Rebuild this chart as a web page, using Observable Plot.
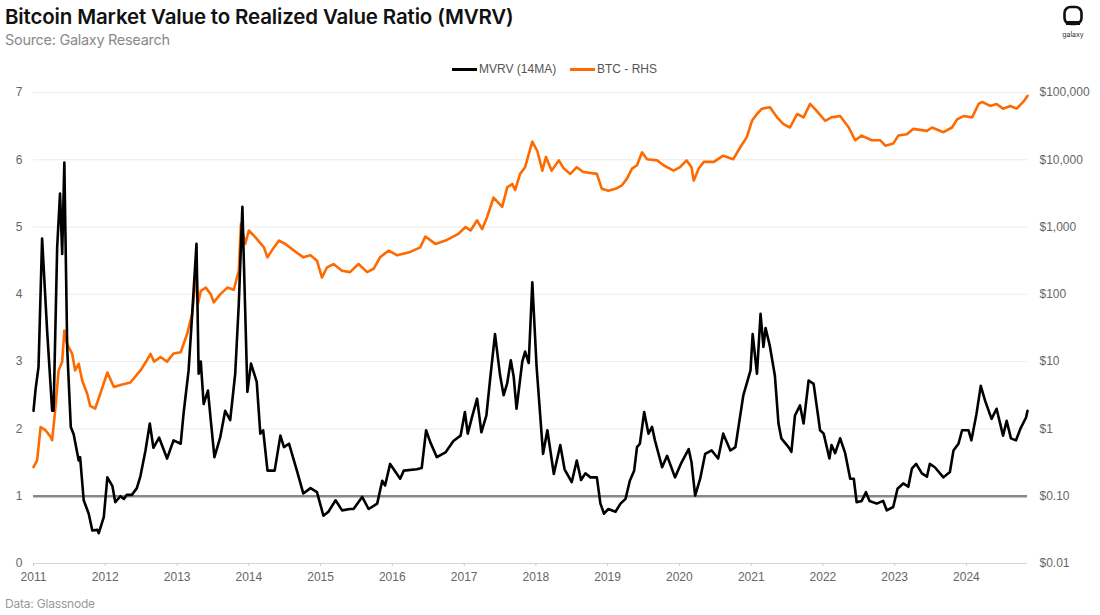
<!DOCTYPE html>
<html><head><meta charset="utf-8">
<script src="https://cdn.jsdelivr.net/npm/d3@7"></script>
<script src="https://cdn.jsdelivr.net/npm/@observablehq/plot@0.6"></script>
<style>
html,body{margin:0;padding:0;background:#fff;width:1100px;height:615px;overflow:hidden;position:relative;font-family:"Liberation Sans",Arial,sans-serif;}
#title{position:absolute;left:5px;top:4px;font-family:Inter,"Noto Sans",sans-serif;font-weight:600;font-size:20.5px;letter-spacing:-0.15px;color:#111;white-space:nowrap;}
#sub{position:absolute;left:5px;top:31px;font-family:Inter,"Noto Sans",sans-serif;font-size:14.5px;letter-spacing:-0.3px;color:#8a8a8a;white-space:nowrap;}
#legend{position:absolute;top:61px;left:0;width:1100px;height:16px;font-size:12px;color:#555;}
.lg{position:absolute;top:0;display:flex;align-items:center;height:16px;white-space:nowrap;}
.sw{display:inline-block;width:25px;height:3px;margin-right:2px;}
#chart{position:absolute;left:0;top:80px;}
#caption{position:absolute;left:5px;top:596px;font-family:Inter,"Noto Sans",sans-serif;font-size:12px;color:#9a9a9a;letter-spacing:-0.2px;}
#logo{position:absolute;left:1060px;top:5px;width:26px;text-align:center;}
#logo span{display:block;font-size:7px;color:#333;margin-top:-1px;font-family:Inter,sans-serif;}
</style></head>
<body>
<div id="title">Bitcoin Market Value to Realized Value Ratio (MVRV)</div>
<div id="sub">Source: Galaxy Research</div>
<div id="logo"><svg width="22" height="22" viewBox="0 0 22 22"><rect x="2.5" y="2" width="17" height="17" rx="6" fill="none" stroke="#111" stroke-width="2.6"/><rect x="4" y="16" width="14" height="4" fill="#111"/></svg><span>galaxy</span></div>
<div id="legend">
  <div class="lg" style="left:452px"><span class="sw" style="background:#000"></span>MVRV (14MA)</div>
  <div class="lg" style="left:570px"><span class="sw" style="background:#ff6a00"></span>BTC - RHS</div>
</div>
<div id="chart"></div>
<div id="caption">Data: Glassnode</div>
<script>
// MVRV (14MA): decimal year, ratio
const mvrvT = [2011.00,2011.03,2011.07,2011.12,2011.19,2011.26,2011.28,2011.33,2011.37,2011.40,2011.43,2011.47,2011.52,2011.56,2011.63,2011.65,2011.70,2011.77,2011.82,2011.89,2011.91,2011.98,
2012.03,2012.10,2012.14,2012.21,2012.26,2012.30,2012.37,2012.44,2012.49,2012.56,2012.62,2012.67,2012.75,2012.86,2012.95,
2013.05,2013.09,2013.16,2013.21,2013.27,2013.30,2013.33,2013.37,2013.43,2013.47,2013.52,2013.60,2013.67,2013.74,2013.81,2013.86,2013.91,2013.98,
2014.03,2014.11,2014.16,2014.20,2014.26,2014.36,2014.44,2014.49,2014.56,2014.67,2014.76,2014.86,2014.95,
2015.04,2015.11,2015.21,2015.30,2015.41,2015.46,2015.58,2015.67,2015.79,2015.86,2015.90,2015.97,
2016.11,2016.16,2016.34,2016.41,2016.47,2016.53,2016.62,2016.74,2016.85,2016.95,
2017.01,2017.05,2017.11,2017.18,2017.24,2017.31,2017.36,2017.43,2017.50,2017.55,2017.60,2017.65,2017.69,2017.73,2017.81,2017.85,2017.90,2017.95,
2018.01,2018.10,2018.16,2018.25,2018.34,2018.40,2018.50,2018.57,2018.63,2018.69,2018.76,2018.85,2018.90,2018.95,
2019.01,2019.11,2019.18,2019.25,2019.31,2019.37,2019.41,2019.45,2019.51,2019.57,2019.62,2019.66,2019.76,2019.83,2019.94,
2020.03,2020.13,2020.17,2020.22,2020.29,2020.36,2020.45,2020.54,2020.61,2020.71,2020.78,2020.89,2020.99,
2021.02,2021.08,2021.13,2021.17,2021.20,2021.26,2021.33,2021.38,2021.42,2021.52,2021.56,2021.61,2021.68,2021.73,2021.80,2021.87,2021.96,
2022.01,2022.09,2022.12,2022.17,2022.24,2022.31,2022.38,2022.43,2022.47,2022.54,2022.60,2022.65,2022.75,2022.84,2022.89,2022.98,
2023.04,2023.12,2023.19,2023.24,2023.30,2023.38,2023.45,2023.49,2023.56,2023.68,2023.77,2023.82,2023.89,2023.94,
2024.03,2024.07,2024.14,2024.20,2024.26,2024.35,2024.42,2024.51,2024.56,2024.62,2024.69,2024.75,2024.83,2024.85];
const mvrvV = [2.27,2.6,2.92,4.83,3.46,2.27,2.27,4.7,5.5,4.6,5.96,3.2,2.03,1.92,1.53,1.58,0.94,0.74,0.49,0.5,0.45,0.69,
1.28,1.15,0.91,1.0,0.96,1.02,1.02,1.12,1.3,1.68,2.08,1.72,1.87,1.56,1.83,
1.78,2.23,2.87,3.71,4.75,2.82,3.0,2.37,2.57,2.12,1.58,1.87,2.27,2.13,2.82,3.86,5.3,2.55,
2.97,2.7,1.93,1.98,1.38,1.38,1.90,1.73,1.78,1.38,1.04,1.12,1.06,
0.71,0.77,0.94,0.79,0.81,0.81,0.99,0.81,0.89,1.23,1.16,1.48,
1.26,1.38,1.40,1.42,1.98,1.80,1.58,1.65,1.82,1.90,
2.25,1.93,2.18,2.45,1.95,2.2,2.72,3.41,2.8,2.5,2.68,3.02,2.78,2.30,3.0,3.15,2.98,4.18,
2.92,1.63,1.98,1.33,1.76,1.40,1.21,1.53,1.24,1.34,1.28,1.28,0.89,0.74,
0.81,0.77,0.89,0.96,1.23,1.38,1.73,1.78,2.25,1.93,2.03,1.83,1.43,1.60,1.28,
1.50,1.70,1.50,1.01,1.26,1.63,1.68,1.56,1.93,1.68,1.73,2.50,2.87,
3.41,2.82,3.71,3.22,3.5,3.23,2.79,2.08,1.86,1.73,1.66,2.2,2.35,2.08,2.72,2.67,1.98,
1.93,1.56,1.76,1.64,1.86,1.64,1.26,1.26,0.91,0.93,1.06,0.93,0.89,0.93,0.79,0.84,
1.11,1.19,1.14,1.41,1.48,1.34,1.29,1.48,1.43,1.28,1.36,1.68,1.78,1.98,
1.98,1.83,2.22,2.64,2.42,2.15,2.30,1.90,2.12,1.86,1.83,2.0,2.17,2.27];

// BTC price (USD): decimal year, price
const btcT = [2011.00,2011.05,2011.10,2011.17,2011.24,2011.26,2011.31,2011.35,2011.40,2011.43,2011.47,2011.54,2011.58,2011.63,2011.68,2011.75,2011.79,2011.86,2011.93,
2012.03,2012.12,2012.21,2012.35,2012.49,2012.58,2012.63,2012.68,2012.77,2012.86,2012.95,
2013.05,2013.14,2013.21,2013.27,2013.29,2013.33,2013.40,2013.47,2013.51,2013.60,2013.70,2013.79,2013.86,2013.89,2013.95,
2014.00,2014.09,2014.21,2014.26,2014.32,2014.42,2014.51,2014.63,2014.76,2014.86,2014.95,
2015.02,2015.09,2015.18,2015.30,2015.41,2015.53,2015.65,2015.74,2015.83,2015.95,
2016.07,2016.25,2016.39,2016.46,2016.60,2016.74,2016.92,
2017.02,2017.09,2017.18,2017.25,2017.32,2017.41,2017.53,2017.60,2017.67,2017.71,2017.78,2017.85,2017.92,2017.95,
2018.02,2018.09,2018.14,2018.22,2018.32,2018.39,2018.48,2018.57,2018.66,2018.85,2018.92,
2019.01,2019.11,2019.20,2019.27,2019.34,2019.41,2019.48,2019.55,2019.69,2019.78,2019.92,
2020.01,2020.10,2020.17,2020.20,2020.27,2020.34,2020.48,2020.61,2020.75,2020.85,2020.94,
2021.01,2021.08,2021.15,2021.26,2021.36,2021.45,2021.54,2021.64,2021.73,2021.82,2021.91,
2022.03,2022.12,2022.24,2022.36,2022.45,2022.54,2022.68,2022.80,2022.87,2022.98,
2023.05,2023.17,2023.26,2023.45,2023.52,2023.68,2023.80,2023.87,2023.96,
2024.08,2024.17,2024.22,2024.33,2024.42,2024.51,2024.61,2024.70,2024.79,2024.85];
const btcP = [0.27,0.34,1.07,0.95,0.76,0.68,2.3,7.4,10,29,18,13,7.4,9.3,5.2,3.3,2.2,2.0,3.3,
6.9,4.2,4.5,4.9,7.4,10.5,13,10,11.7,10,13.2,
13.8,26,51,224,72,112,126,100,76,100,126,117,224,1120,560,
890,710,500,355,447,630,560,447,355,380,316,
178,251,282,224,214,282,214,240,355,447,
380,427,500,724,562,630,794,
1000,890,1260,930,1410,2750,2000,3890,4370,3550,6170,7760,14450,18600,
13500,6900,11000,6900,9800,7400,6170,7760,6600,6170,3700,
3470,3700,4170,5250,7400,8300,12900,10200,9800,8300,6900,
7760,9800,7760,4900,7400,9300,9300,11500,10200,15500,21900,
38000,47900,57500,60300,42700,33900,30200,47900,42700,67600,53700,
38000,42700,44700,30200,19500,22900,19500,19500,16200,17400,
22900,24000,28800,26900,30200,25700,30200,39800,44700,
42700,67600,72400,63100,67600,57500,63100,57500,72400,89000];

const leftTicks = [0,1,2,3,4,5,6,7];
const rhsLabels = ["$0.01","$0.10","$1","$10","$100","$1,000","$10,000","$100,000"];
const xStart = 2011, xEnd = 2024.85;

function toDate(t){
  const y = Math.floor(t);
  const a = Date.UTC(y,0,1), b = Date.UTC(y+1,0,1);
  return new Date(a + (t - y) * (b - a));
}
const mvrv = mvrvT.map((t,i)=>({date:toDate(t), value:mvrvV[i]}));
const btc = btcT.map((t,i)=>({date:toDate(t), price:btcP[i]}));

const chart = Plot.plot({
  width:1100, height:505,
  marginLeft:33, marginRight:73, marginTop:12, marginBottom:22,
  style:{fontFamily:'"Liberation Sans", Arial, sans-serif', fontSize:"12px", color:"#666", background:"transparent"},
  x:{type:"utc", domain:[toDate(xStart), toDate(xEnd)]},
  y:{domain:[0,7]},
  marks:[
    Plot.gridY(leftTicks.slice(1), {stroke:"#ececec", strokeOpacity:1}),
    Plot.ruleY([0], {stroke:"#d6d6d6"}),
    Plot.axisY(leftTicks, {anchor:"left", tickSize:0, tickPadding:11, label:null, tickFormat:d=>String(d)}),
    Plot.axisY(leftTicks, {anchor:"right", tickSize:0, tickPadding:12, label:null, textAnchor:"start", tickFormat:d=>rhsLabels[d]}),
    Plot.axisX({ticks:d3.utcYear.every(1), tickFormat:"%Y", tickSize:3, tickPadding:6, stroke:"#ccc", label:null}),
    Plot.ruleY([1], {stroke:"#888", strokeWidth:2.5}),
    Plot.line(btc, {x:"date", y:d=>Math.log10(d.price)+2, stroke:"#ff6a00", strokeWidth:2.6}),
    Plot.line(mvrv, {x:"date", y:"value", stroke:"#000", strokeWidth:2.6})
  ]
});
document.getElementById("chart").appendChild(chart);
</script>
</body></html>
